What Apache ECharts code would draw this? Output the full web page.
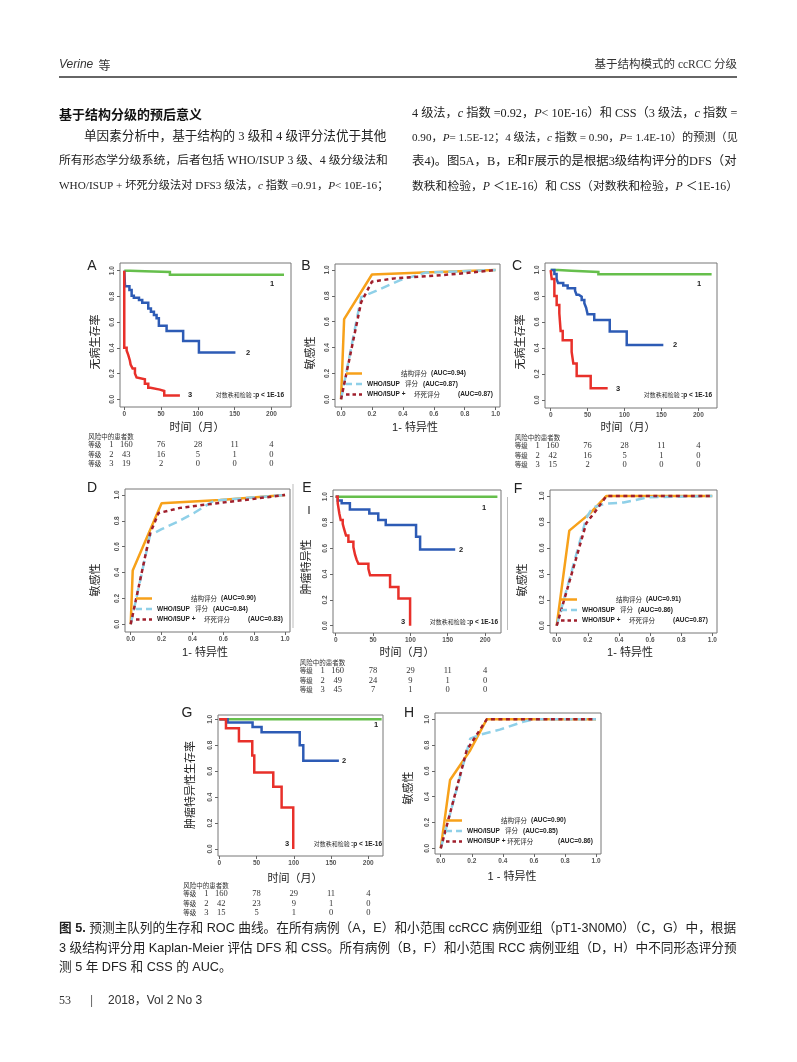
<!DOCTYPE html>
<html><head><meta charset="utf-8">
<script src="https://cdn.jsdelivr.net/npm/echarts@6/dist/echarts.min.js"></script>
<style>html,body{margin:0;padding:0;background:#fff}#c{width:797px;height:1062px}</style>
</head><body><div id="c"></div>
<script>
// ================= DATA =================
const timeTicks = [0, 50, 100, 150, 200];
const probTicks = [0, 0.2, 0.4, 0.6, 0.8, 1.0];
const rocTicks = [0, 0.2, 0.4, 0.6, 0.8, 1.0];
const gradeLabels = ['1', '2', '3'];

// Kaplan-Meier curves [time (months), survival]
const kmA1 = [[0,1],[8,0.995],[28,0.99],[62,0.969],[217,0.969]];
const kmA2 = [[0,1],[1,0.88],[7,0.85],[10,0.806],[13,0.79],[20,0.772],[24.4,0.751],[32.6,0.707],[36.2,0.681],[40.3,0.655],[43.9,0.63],[47,0.572],[57.5,0.531],[80,0.453],[101.4,0.363],[151,0.363]];
const kmA3 = [[0,1],[0,0.4],[3.2,0.38],[5.4,0.345],[7.7,0.3],[8.6,0.27],[11.3,0.24],[14.5,0.2],[16.7,0.17],[19,0.155],[28,0.12],[32.6,0.09],[35.7,0.075],[48.4,0.065],[54.3,0.03],[75.6,0.03]];

const kmC1 = [[0,1],[10,0.995],[28,0.985],[64.6,0.967],[218,0.967]];
const kmC2 = [[0,1],[5,0.97],[8,0.93],[10,0.9],[17,0.88],[23,0.86],[33,0.84],[35,0.81],[38,0.795],[42,0.77],[45.6,0.745],[48,0.71],[50,0.66],[59,0.615],[80,0.526],[103,0.423],[152.6,0.423]];
const kmC3 = [[0,1],[1.4,0.93],[5,0.8],[8.1,0.73],[11.7,0.667],[13.5,0.53],[16.3,0.46],[28.4,0.37],[30.7,0.28],[35.2,0.185],[54.2,0.09],[77.2,0.09]];

const kmE1 = [[0,1],[216.5,1]];
const kmE2 = [[0,1],[2.7,0.97],[8,0.95],[19,0.9],[45,0.87],[57,0.82],[67,0.78],[107.6,0.69],[113,0.59],[160,0.59]];
const kmE3 = [[0,1],[2.7,0.95],[4.9,0.87],[6.7,0.82],[9.4,0.79],[11.2,0.75],[13.8,0.7],[17,0.65],[23.7,0.61],[25.9,0.55],[28.1,0.51],[30.4,0.48],[43.8,0.44],[46,0.39],[72.8,0.3],[84,0.21],[99.6,0]];

const kmG1 = [[0,1],[218,1]];
const kmG2 = [[0,1],[11.2,0.975],[44.7,0.94],[56.8,0.9],[108,0.8],[112.8,0.68],[160.6,0.68]];
const kmG3 = [[0,1],[9,0.93],[26.4,0.83],[44.3,0.72],[47,0.59],[72.5,0.48],[83.7,0.32],[99.3,0]];

// ROC curves [1 - specificity, sensitivity]
const rocB1 = [[0,0],[0.02,0.62],[0.2,0.965],[0.53,0.98],[1,1]];
const rocB2 = [[0,0],[0.13,0.79],[0.23,0.84],[0.38,0.92],[0.55,0.98],[1,1]];
const rocB3 = [[0,0],[0.13,0.75],[0.2,0.91],[0.35,0.935],[0.6,0.955],[0.8,0.975],[1,1]];

const rocD1 = [[0,0],[0.013,0.415],[0.2,0.935],[0.58,0.96],[1,1]];
const rocD2 = [[0,0],[0.125,0.69],[0.2,0.735],[0.3,0.79],[0.41,0.86],[0.54,0.956],[1,1]];
const rocD3 = [[0,0],[0.125,0.7],[0.18,0.86],[0.32,0.9],[0.45,0.92],[0.8,0.97],[1,1]];

const rocF1 = [[0,0],[0.081,0.733],[0.214,0.866],[0.32,1],[1,1]];
const rocF2 = [[0,0],[0.19,0.83],[0.23,0.91],[0.31,0.94],[0.43,0.95],[0.59,0.99],[1,1]];
const rocF3 = [[0,0],[0.19,0.79],[0.26,0.9],[0.32,1],[1,1]];

const rocH1 = [[0,0],[0.06,0.53],[0.19,0.76],[0.296,1],[1,1]];
const rocH2 = [[0,0],[0.19,0.85],[0.25,0.88],[0.38,0.92],[0.53,0.98],[0.6,1],[1,1]];
const rocH3 = [[0,0],[0.167,0.76],[0.296,1],[1,1]];

// numbers at risk (grade 1,2,3 at 0,50,100,150,200 months)
const riskA = [[160,76,28,11,4],[43,16,5,1,0],[19,2,0,0,0]];
const riskC = [[160,76,28,11,4],[42,16,5,1,0],[15,2,0,0,0]];
const riskE = [[160,78,29,11,4],[49,24,9,1,0],[45,7,1,0,0]];
const riskG = [[160,78,29,11,4],[42,23,9,1,0],[15,5,1,0,0]];

// AUC values (结构评分, WHO/ISUP 评分, WHO/ISUP + 坏死评分)
const aucB = ['0.94','0.87','0.87'];
const aucD = ['0.90','0.84','0.83'];
const aucF = ['0.91','0.86','0.87'];
const aucH = ['0.90','0.85','0.86'];

// ================= LAYOUT =================
const layout = [
 {key:'A', kind:'km',  box:[120,263,171,144], xr:[-5.8,226.5], yr:[-0.06,1.06],  curves:[kmA1,kmA2,kmA3], risk:riskA,
  letter:[92,266], yTitle:[95,342,'无病生存率'], xTitle:[197,428,'时间（月）'], gl:[[272,284],[248,353],[190,395]], lr:[284,395]},
 {key:'B', kind:'roc', box:[335,264,165,143], xr:[-0.039,1.028], yr:[-0.059,1.046], curves:[rocB1,rocB2,rocB3], auc:aucB,
  letter:[306,266], yTitle:[310,353,'敏感性'], xTitle:[415,428,'1- 特异性']},
 {key:'C', kind:'km',  box:[545,263,172,145], xr:[-7.7,225.3], yr:[-0.062,1.054], curves:[kmC1,kmC2,kmC3], risk:riskC,
  letter:[517,266], yTitle:[520,342,'无病生存率'], xTitle:[628,428,'时间（月）'], gl:[[699,284],[675,345],[618,389]], lr:[712,395]},
 {key:'D', kind:'roc', box:[125,489,165,143], xr:[-0.037,1.032], yr:[-0.06,1.046], curves:[rocD1,rocD2,rocD3], auc:aucD,
  letter:[92,488], yTitle:[95,580,'敏感性'], xTitle:[205,653,'1- 特异性']},
 {key:'E', kind:'km',  box:[333,490,168,143], xr:[-3.6,221.3], yr:[-0.057,1.052], curves:[kmE1,kmE2,kmE3], risk:riskE,
  letter:[307,488], yTitle:[306,567,'肿瘤特异性'], xTitle:[407,653,'时间（月）'], gl:[[484,508],[461,550],[403,622]], lr:[498,622]},
 {key:'F', kind:'roc', box:[550,490,167,143], xr:[-0.043,1.03], yr:[-0.056,1.046], curves:[rocF1,rocF2,rocF3], auc:aucF,
  letter:[518,489], yTitle:[522,580,'敏感性'], xTitle:[630,653,'1- 特异性']},
 {key:'G', kind:'km',  box:[218,715,165,141], xr:[-1.7,219.8], yr:[-0.054,1.033], curves:[kmG1,kmG2,kmG3], risk:riskG,
  letter:[187,713], yTitle:[190,785,'肿瘤特异性生存率'], xTitle:[295,879,'时间（月）'], gl:[[376,725],[344,761],[287,844]], lr:[382,844]},
 {key:'H', kind:'roc', box:[435,713,166,141], xr:[-0.037,1.032], yr:[-0.044,1.049], curves:[rocH1,rocH2,rocH3], auc:aucH,
  letter:[409,713], yTitle:[408,788,'敏感性'], xTitle:[512,877,'1 - 特异性'], joinedRow3:true}
];

const KM_COLORS = ['#66bf4c', '#2d5bb5', '#e8302a'];
const ROC_STYLES = [
  {color:'#f7a11a', type:'solid'},
  {color:'#8fd0e8', type:[9,5]},
  {color:'#a01f2c', type:[4,3.5]}
];
const CJK = "'Noto Sans CJK SC'";
const SANS = "'Liberation Sans'";
const SERIF = "'Liberation Serif'";

// ================= BUILD =================
const chart = echarts.init(document.getElementById('c'), null, {renderer:'canvas', width:797, height:1062});
const grids=[], xAxes=[], yAxes=[], series=[];
const tickLab = {fontSize:6.5, fontWeight:'bold', color:'#555', fontFamily:'Liberation Sans'};

layout.forEach((p,i)=>{
  const [l,t,w,h] = p.box;
  const isKM = p.kind==='km';
  grids.push({left:l, top:t, width:w, height:h, show:true, borderColor:'#777', borderWidth:1,
    backgroundColor:'transparent', containLabel:false, outerBoundsMode:'none'});
  const xt = isKM ? timeTicks : rocTicks;
  xAxes.push({gridIndex:i, type:'value', position:'bottom', min:p.xr[0], max:p.xr[1],
    axisLine:{show:false, onZero:false}, splitLine:{show:false},
    axisTick:{show:true, length:3, lineStyle:{color:'#666', width:1}, customValues:xt},
    axisLabel:Object.assign({}, tickLab, {margin:4, customValues:xt,
      formatter: v => isKM ? String(Math.round(v)) : Number(v).toFixed(1)})});
  yAxes.push({gridIndex:i, type:'value', position:'left', min:p.yr[0], max:p.yr[1],
    axisLine:{show:false, onZero:false}, splitLine:{show:false},
    axisTick:{show:true, length:3, lineStyle:{color:'#666', width:1}, customValues:probTicks},
    axisLabel:Object.assign({}, tickLab, {margin:4, rotate:90, customValues:probTicks,
      formatter: v => Number(v).toFixed(1)})});
  p.curves.forEach((d,k)=>{
    if (isKM) {
      series.push({type:'line', xAxisIndex:i, yAxisIndex:i, data:d, step:'end', symbol:'none',
        lineStyle:{color:KM_COLORS[k], width:2.5, cap:'butt', join:'miter'}, animation:false, silent:true, z:2+k});
    } else {
      series.push({type:'line', xAxisIndex:i, yAxisIndex:i, data:d, symbol:'none',
        lineStyle:{color:ROC_STYLES[k].color, width:2.5, type:ROC_STYLES[k].type, cap:'butt'}, animation:false, silent:true, z:2+k});
    }
  });
});

chart.setOption({animation:false, backgroundColor:'#fff', grid:grids, xAxis:xAxes, yAxis:yAxes, series:series});

// ================= TEXT / ANNOTATIONS =================
const mctx = document.createElement('canvas').getContext('2d');
function fitSize(text, family, base, target, lo, hi){
  mctx.font = base + 'px ' + family;
  const w = mctx.measureText(text.replace(/\{\w+\|([^}]*)\}/g,'$1')).width;
  return Math.max(lo, Math.min(hi, base*target/w));
}
function txt(x,y,text,font,o){
  o = o||{};
  const st = {text:text, font:font, fill:o.fill||'#222', align:o.align||'left', textAlign:o.align||'left',
    verticalAlign:o.va||'middle', textVerticalAlign:o.va||'middle'};
  if (o.rich) st.rich = o.rich;
  return {type:'text', x:x, y:y, rotation:o.rot||0, silent:true, z:100, style:st};
}
function seg(x1,y1,x2,y2,stroke,lw,dash){
  const s = {stroke:stroke, lineWidth:lw};
  if (dash) s.lineDash = dash;
  return {type:'line', shape:{x1:x1,y1:y1,x2:x2,y2:y2}, style:s, silent:true, z:100};
}
const g = [];

// page header
g.push(txt(59,65,'{v|Verine}  等', "12px "+CJK, {fill:'#333', rich:{v:{font:"italic 12px "+SANS, fill:'#333'}}}));
g.push(txt(737,65,'基于结构模式的 ccRCC 分级', "11.5px "+SERIF+","+CJK, {align:'right', fill:'#333'}));
g.push(seg(59,77,737,77,'#333',1.5));

// body text (justified columns emulated by fitting each line to the column width)
const bodyFam = SERIF+","+CJK;
function bodyLine(x, y, text, target){
  const s = fitSize(text, bodyFam, 12, target, 10.8, 12.6);
  g.push(txt(x, y, text, s.toFixed(2)+"px "+bodyFam, {rich:{it:{font:"italic "+s.toFixed(2)+"px "+SERIF, fill:'#222'}}}));
}
g.push(txt(59,114,'基于结构分级的预后意义', "bold 13px "+CJK, {fill:'#111'}));
bodyLine(84,137,'单因素分析中，基于结构的 3 级和 4 级评分法优于其他', 304);
bodyLine(59,161,'所有形态学分级系统，后者包括 WHO/ISUP 3 级、4 级分级法和', 329);
bodyLine(59,186,'WHO/ISUP + 坏死分级法对 DFS3 级法，{it|c} 指数 =0.91，{it|P}< 10E-16；', 329);
bodyLine(412,114,'4 级法，{it|c} 指数 =0.92，{it|P}< 10E-16）和 CSS（3 级法，{it|c} 指数 =', 325);
bodyLine(412,138,'0.90，{it|P}= 1.5E-12；4 级法，{it|c} 指数 = 0.90，{it|P}= 1.4E-10）的预测（见', 325);
bodyLine(412,162,'表4)。图5A，B，E和F展示的是根据3级结构评分的DFS（对', 325);
bodyLine(412,187,'数秩和检验，{it|P} ＜1E-16）和 CSS（对数秩和检验，{it|P} ＜1E-16）', 325);

// caption
const capFam = SANS+","+CJK;
const cap1 = '{b|图 5.} 预测主队列的生存和 ROC 曲线。在所有病例（A，E）和小范围 ccRCC 病例亚组（pT1-3N0M0）（C，G）中，根据';
const cap2 = '3 级结构评分用 Kaplan-Meier 评估 DFS 和 CSS。所有病例（B，F）和小范围 RCC 病例亚组（D，H）中不同形态评分预';
const cs1 = fitSize(cap1, capFam, 12.5, 678, 11.5, 13.2);
const cs2 = fitSize(cap2, capFam, 12.5, 678, 11.5, 13.2);
g.push(txt(59,929,cap1, cs1.toFixed(2)+"px "+capFam, {rich:{b:{font:"bold "+cs1.toFixed(2)+"px "+capFam, fill:'#222'}}}));
g.push(txt(59,949,cap2, cs2.toFixed(2)+"px "+capFam));
g.push(txt(59,968,'测 5 年 DFS 和 CSS 的 AUC。', cs2.toFixed(2)+"px "+capFam));

// footer
g.push(txt(59,1001,'53', "12px "+SERIF, {fill:'#333'}));
g.push(txt(90,1001,'|', "12px "+SANS, {fill:'#666'}));
g.push(txt(108,1001,'2018，Vol 2 No 3', "12px "+SANS+","+CJK, {fill:'#333'}));

// faint image edges seen in the scan
g.push(seg(293,484,293,628,'#bbb',1));
g.push(seg(507.5,497,507.5,630,'#bbb',1));
g.push(seg(309,506,309,514,'#333',1.2));

layout.forEach((p,i)=>{
  const [l,t,w,h] = p.box;
  const bottom = t+h;
  g.push(txt(p.letter[0], p.letter[1], p.key, "14px "+SANS, {align:'center', fill:'#222'}));
  g.push(txt(p.yTitle[0], p.yTitle[1], p.yTitle[2], "11px "+CJK, {align:'center', rot:Math.PI/2, fill:'#222'}));
  g.push(txt(p.xTitle[0], p.xTitle[1], p.xTitle[2], "11px "+SANS+","+CJK, {align:'center', fill:'#222'}));
  if (p.kind==='km') {
    p.gl.forEach((pos,k)=> g.push(txt(pos[0], pos[1], gradeLabels[k], "bold 7.5px "+SANS, {align:'center', fill:'#222'})));
    g.push(txt(p.lr[0], p.lr[1], '对数秩和检验 {b|:p < 1E-16}', "6px "+CJK,
      {align:'right', fill:'#333', rich:{b:{font:"bold 6.5px "+SANS, fill:'#222'}}}));
    // numbers at risk table
    const x0 = chart.convertToPixel({xAxisIndex:i}, timeTicks[0]);
    const rowY = [bottom+38, bottom+47.5, bottom+57];
    g.push(txt(x0-36, bottom+29.5, '风险中的患者数', "6.5px "+CJK, {fill:'#333'}));
    p.risk.forEach((row,r)=>{
      g.push(txt(x0-36, rowY[r], '等级', "6.5px "+CJK, {fill:'#333'}));
      g.push(txt(x0-13, rowY[r], gradeLabels[r], "8.5px "+SERIF, {align:'center', fill:'#333'}));
      row.forEach((v,c)=>{
        const px = chart.convertToPixel({xAxisIndex:i}, timeTicks[c]);
        g.push(txt(px + (c===0?2:0), rowY[r], String(v), "8.5px "+SERIF, {align:'center', fill:'#333'}));
      });
    });
  } else {
    const rows = [bottom-33.5, bottom-23, bottom-12.5];
    const sx1 = l+11, sx2 = l+27;
    g.push(seg(sx1,rows[0],sx2,rows[0],ROC_STYLES[0].color,2.5));
    g.push(seg(sx1,rows[1],sx2,rows[1],ROC_STYLES[1].color,2.5,[6,4]));
    g.push(seg(sx1,rows[2],sx2,rows[2],ROC_STYLES[2].color,2.5,[3.5,3]));
    const cf = "6.5px "+CJK, bf = "bold 6.5px "+SANS;
    g.push(txt(l+66, rows[0], '结构评分', cf));
    g.push(txt(l+96, rows[0], '(AUC='+p.auc[0]+')', bf));
    g.push(txt(l+32, rows[1], 'WHO/ISUP', bf));
    g.push(txt(l+70, rows[1], '评分', cf));
    g.push(txt(l+88, rows[1], '(AUC='+p.auc[1]+')', bf));
    if (p.joinedRow3) {
      g.push(txt(l+32, rows[2], 'WHO/ISUP + {c|坏死评分}', bf, {rich:{c:{font:cf, fill:'#222'}}}));
    } else {
      g.push(txt(l+32, rows[2], 'WHO/ISUP +', bf));
      g.push(txt(l+79, rows[2], '坏死评分', cf));
    }
    g.push(txt(l+123, rows[2], '(AUC='+p.auc[2]+')', bf));
  }
});

chart.setOption({graphic:{elements:g}});
</script>
</body></html>
